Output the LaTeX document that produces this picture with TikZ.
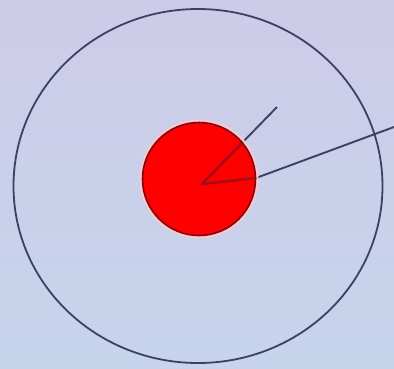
\documentclass[tikz,border=0pt]{standalone}
\usetikzlibrary{positioning,calc}
\definecolor{skyTop}{RGB}{206,203,232}
\definecolor{skyBot}{RGB}{198,212,236}
\definecolor{ringLine}{RGB}{62,64,96}
\definecolor{coreEdge}{RGB}{125,8,22}
\definecolor{coreRay}{RGB}{170,10,20}
\tikzset{
  ring/.style={draw=ringLine, line width=1.8pt},
  ray/.style={draw=ringLine, line width=1.9pt, line join=round},
  core/.style={circle, fill=red, draw=coreEdge, line width=1.6pt,
               minimum size=113pt, inner sep=0pt},
  halo/.style={draw=red!22!white, line width=2pt},
}

\begin{document}
\begin{tikzpicture}[x=1pt, y=-1pt]
  \useasboundingbox (0,0) rectangle (394,368);
  \shade[top color=skyTop, bottom color=skyBot] (0,0) rectangle (394,368);
  % outer ring
  \draw[ring] (198,186) ellipse [x radius=184.5pt, y radius=177pt];
  % rays
  \coordinate (hub) at (202,184);
  \coordinate (knee) at (256,178);
  \coordinate (rayEnd) at (394,127);
  \coordinate (tipEnd) at (277,107);
  \draw[ray] (rayEnd) -- (knee) -- (hub) -- (tipEnd);
  % red core
  \draw[halo] (199,179) circle [radius=58.5pt];
  \node[core] (core) at (199,179) {};
  \begin{scope}
    \clip (199,179) circle [radius=55.5pt];
    \draw[ray, draw=coreRay, line width=2.6pt] (rayEnd) -- (knee) -- (hub) -- (tipEnd);
  \end{scope}
\end{tikzpicture}
\end{document}
